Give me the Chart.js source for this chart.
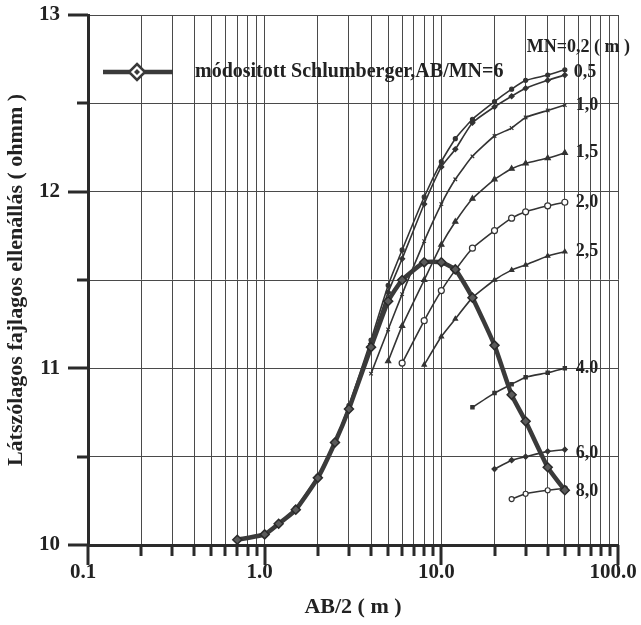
<!DOCTYPE html>
<html><head><meta charset="utf-8">
<script src="https://cdn.jsdelivr.net/npm/chart.js@4.4.1/dist/chart.umd.min.js"></script>
<style>html,body{margin:0;padding:0;background:#fff}#wrap{width:641px;height:625px;position:relative}</style>
</head><body><div id="wrap"><canvas id="c" width="641" height="625"></canvas></div>
<script>
// ---------- data ----------
const abHalf = [0.7, 1, 1.2, 1.5, 2, 2.5, 3, 4, 5, 6, 8, 10, 12, 15, 20, 25, 30, 40, 50];

const schlumberger = [10.03, 10.06, 10.12, 10.20, 10.38, 10.58, 10.77, 11.12, 11.38, 11.50, 11.60, 11.60, 11.56, 11.40, 11.13, 10.85, 10.70, 10.44, 10.31];

const mn02 = [10.03, 10.06, 10.12, 10.21, 10.39, 10.59, 10.79, 11.16, 11.47, 11.67, 11.97, 12.17, 12.30, 12.41, 12.51, 12.58, 12.63, 12.66, 12.69];
const mn05 = [10.03, 10.06, 10.12, 10.20, 10.38, 10.58, 10.78, 11.14, 11.43, 11.62, 11.93, 12.14, 12.24, 12.39, 12.48, 12.54, 12.585, 12.63, 12.66];
const mn10 = [null, null, null, null, null, null, null, 10.97, 11.22, 11.42, 11.72, 11.93, 12.07, 12.20, 12.315, 12.36, 12.42, 12.46, 12.49];
const mn15 = [null, null, null, null, null, null, null, null, 11.04, 11.24, 11.50, 11.70, 11.83, 11.96, 12.07, 12.13, 12.16, 12.19, 12.22];
const mn20 = [null, null, null, null, null, null, null, null, null, 11.03, 11.27, 11.44, 11.556, 11.68, 11.78, 11.85, 11.886, 11.92, 11.94];
const mn25 = [null, null, null, null, null, null, null, null, null, null, 11.02, 11.18, 11.28, 11.40, 11.50, 11.556, 11.585, 11.636, 11.66];
const mn40 = [null, null, null, null, null, null, null, null, null, null, null, null, null, 10.78, 10.86, 10.91, 10.95, 10.975, 11.00];
const mn60 = [null, null, null, null, null, null, null, null, null, null, null, null, null, null, 10.43, 10.48, 10.50, 10.53, 10.54];
const mn80 = [null, null, null, null, null, null, null, null, null, null, null, null, null, null, null, 10.26, 10.29, 10.31, 10.32];

const mnSeries = [mn02, mn05, mn10, mn15, mn20, mn25, mn40, mn60, mn80];
const mnLabels = ['MN=0,2 ( m )', '0,5', '1,0', '1,5', '2,0', '2,5', '4.0', '6,0', '8,0'];
const legendText = 'módositott Schlumberger,AB/MN=6';

const xMajorValues = [0.1, 1, 10, 100];
const xTickLabels = ['0.1', '1.0', '10.0', '100.0'];
const yMajorValues = [10, 11, 12, 13];
const yTickLabels = ['10', '11', '12', '13'];
const xTitle = 'AB/2 ( m )';
const yTitle = 'Látszólagos fajlagos ellenállás ( ohmm )';

// ---------- styling ----------
const FONT = "'Liberation Serif','Times New Roman',Times,serif";
const INK = '#2a2a2a';
const LINE = '#333';
const GRID = '#4a4a4a';

const xTickValues = [];
[0.1, 1, 10].forEach(d => { for (let k = 1; k <= 9; k++) xTickValues.push(+(d * k).toPrecision(3)); });
xTickValues.push(100);

function pts(vals) {
  return abHalf.map((x, i) => ({ x: x, y: vals[i] })).filter(p => p.y !== null);
}
const isMajorX = v => Math.abs(Math.log10(v) - Math.round(Math.log10(v))) < 1e-9;

const thinStyles = [
  { pointStyle: 'circle', pointRadius: 2 },
  { pointStyle: 'rectRot', pointRadius: 2.5 },
  { pointStyle: 'crossRot', pointRadius: 2.5 },
  { pointStyle: 'triangle', pointRadius: 3 },
  { pointStyle: 'circle', pointRadius: 3, open: true },
  { pointStyle: 'triangle', pointRadius: 2.5 },
  { pointStyle: 'rect', pointRadius: 2.3 },
  { pointStyle: 'rectRot', pointRadius: 2.5 },
  { pointStyle: 'circle', pointRadius: 2.5, open: true }
];

const datasets = [{
  label: legendText,
  data: pts(schlumberger),
  borderColor: '#3a3a3a',
  borderWidth: 4.5,
  pointStyle: 'rectRot',
  pointRadius: 4.5,
  pointBackgroundColor: '#5a5a5a',
  pointBorderColor: '#2a2a2a',
  pointBorderWidth: 1.5,
  tension: 0.15
}];
mnSeries.forEach((vals, i) => {
  const st = thinStyles[i];
  datasets.push({
    label: mnLabels[i],
    data: pts(vals),
    borderColor: LINE,
    borderWidth: 1.6,
    pointStyle: st.pointStyle,
    pointRadius: st.pointRadius,
    pointBackgroundColor: st.open ? '#fff' : LINE,
    pointBorderColor: LINE,
    pointBorderWidth: 1.2,
    tension: 0.15
  });
});

// axis tick marks of two lengths + extended axes
const tickMarks = {
  id: 'tickMarks',
  afterDraw(chart) {
    const { ctx, chartArea: a, scales: { x, y } } = chart;
    ctx.save();
    ctx.strokeStyle = INK;
    ctx.lineWidth = 3;
    ctx.lineCap = 'butt';
    xTickValues.forEach(v => {
      const px = Math.round(x.getPixelForValue(v));
      const len = isMajorX(v) ? 20 : 11;
      ctx.beginPath(); ctx.moveTo(px, a.bottom); ctx.lineTo(px, a.bottom + len); ctx.stroke();
    });
    for (let v = 10; v <= 13.0001; v += 0.5) {
      const py = Math.round(y.getPixelForValue(v));
      const len = Math.abs(v - Math.round(v)) < 1e-9 ? 20 : 11;
      ctx.beginPath(); ctx.moveTo(a.left, py); ctx.lineTo(a.left - len, py); ctx.stroke();
    }
    ctx.restore();
  }
};

// legend drawn inside the plot area, and MN labels at the series ends
const annotations = {
  id: 'annotations',
  afterDraw(chart) {
    const { ctx, chartArea: a } = chart;
    ctx.save();
    const ly = a.top + 57;
    const lx0 = a.left + 15, lx1 = a.left + 85, lxm = a.left + 49;
    ctx.strokeStyle = '#3a3a3a';
    ctx.lineWidth = 4.5;
    ctx.beginPath(); ctx.moveTo(lx0, ly); ctx.lineTo(lx1, ly); ctx.stroke();
    ctx.fillStyle = '#fff';
    ctx.lineWidth = 2.5;
    ctx.beginPath();
    ctx.moveTo(lxm, ly - 8); ctx.lineTo(lxm + 8, ly); ctx.lineTo(lxm, ly + 8); ctx.lineTo(lxm - 8, ly); ctx.closePath();
    ctx.fill(); ctx.stroke();
    ctx.fillStyle = '#3a3a3a';
    ctx.beginPath();
    ctx.moveTo(lxm, ly - 3); ctx.lineTo(lxm + 3, ly); ctx.lineTo(lxm, ly + 3); ctx.lineTo(lxm - 3, ly); ctx.closePath();
    ctx.fill();
    ctx.fillStyle = '#222';
    ctx.font = 'bold 20px ' + FONT;
    ctx.textAlign = 'left';
    ctx.textBaseline = 'middle';
    ctx.fillText(chart.data.datasets[0].label, a.left + 107, ly);

    const shifts = [[-49, -22], [-2, -3], [0, 0], [0, 0], [0, 0], [0, 0], [0, 0], [0, 4], [0, 3]];
    ctx.font = 'bold 18px ' + FONT;
    for (let i = 1; i < chart.data.datasets.length; i++) {
      const meta = chart.getDatasetMeta(i);
      const el = meta.data[meta.data.length - 1];
      const s = shifts[i - 1];
      ctx.fillText(chart.data.datasets[i].label, el.x + 11 + s[0], el.y + s[1]);
    }
    ctx.restore();
  }
};

new Chart(document.getElementById('c'), {
  type: 'line',
  data: { datasets: datasets },
  options: {
    responsive: false,
    animation: false,
    events: [],
    layout: { padding: { left: 0, top: 15, right: 23, bottom: 0 } },
    plugins: { legend: { display: false }, tooltip: { enabled: false } },
    scales: {
      x: {
        type: 'logarithmic',
        min: 0.1,
        max: 100,
        afterBuildTicks: s => { s.ticks = xTickValues.map(v => ({ value: v })); },
        afterFit: s => { s.height = 80; s.paddingLeft = 0; s.paddingRight = 0; },
        ticks: {
          autoSkip: false, maxRotation: 0, minRotation: 0,
          padding: 15, labelOffset: -5,
          color: '#222',
          font: { family: FONT, size: 21, weight: 'bold' },
          callback: function (v) {
            const i = xMajorValues.findIndex(m => Math.abs(m - v) < 1e-9);
            return i >= 0 ? xTickLabels[i] : '';
          }
        },
        grid: { color: GRID, lineWidth: 1, drawTicks: false },
        border: { display: true, color: INK, width: 3 },
        title: { display: true, text: xTitle, color: '#222',
          font: { family: FONT, size: 22, weight: 'bold' }, padding: { top: 0, bottom: 4 } }
      },
      y: {
        type: 'linear',
        min: 10,
        max: 13,
        afterFit: s => { s.width = 88; s.paddingTop = 0; s.paddingBottom = 0; },
        ticks: {
          stepSize: 0.5,
          padding: 28,
          color: '#222',
          font: { family: FONT, size: 21, weight: 'bold' },
          callback: function (v) {
            const i = yMajorValues.findIndex(m => Math.abs(m - v) < 1e-9);
            return i >= 0 ? yTickLabels[i] : '';
          }
        },
        grid: { color: GRID, lineWidth: 1, drawTicks: false },
        border: { display: true, color: INK, width: 3 },
        title: { display: true, text: yTitle, color: '#222',
          font: { family: FONT, size: 22, weight: 'bold' }, padding: { top: 3, bottom: 0 } }
      }
    }
  },
  plugins: [tickMarks, annotations]
});
</script>
</body></html>
